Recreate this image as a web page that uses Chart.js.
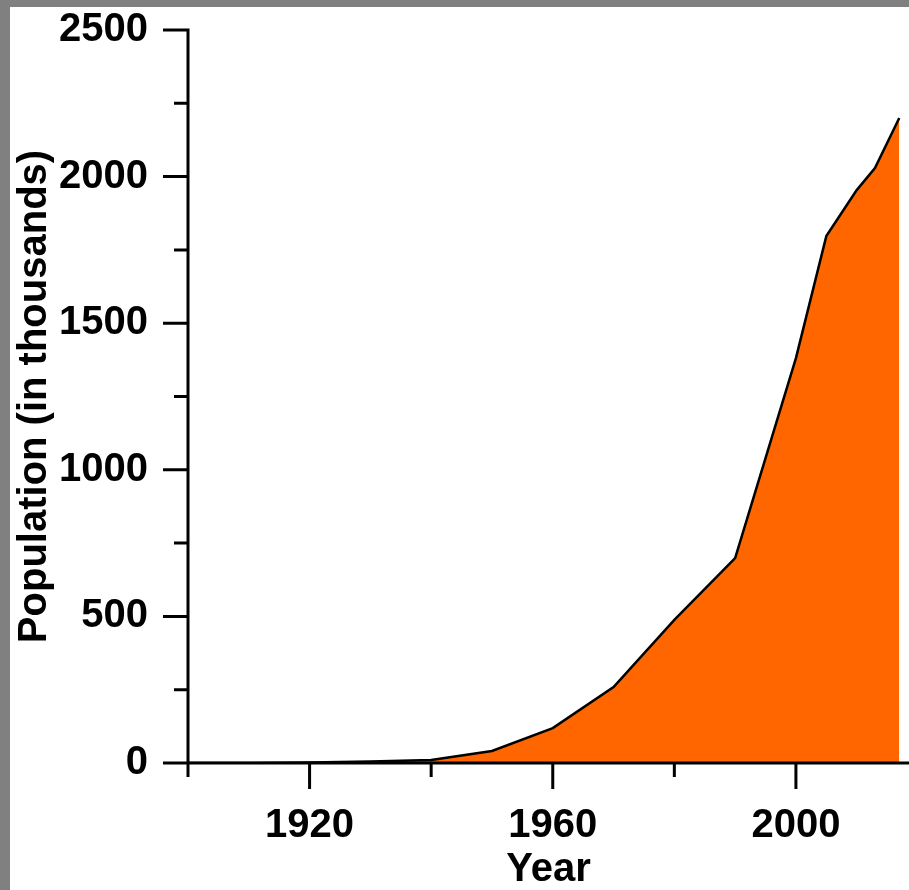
<!DOCTYPE html>
<html>
<head>
<meta charset="utf-8">
<script src="https://cdn.jsdelivr.net/npm/chart.js@4"></script>
<style>
  html, body { margin: 0; padding: 0; background: #808080; }
  #wrap { position: absolute; left: 10px; top: 7px; width: 899px; height: 883px; background: #fff; }
</style>
</head>
<body>
<div id="wrap"><canvas id="chart"></canvas></div>
<script>
// population values (thousands)
const years = [1900, 1910, 1920, 1930, 1940, 1950, 1960, 1970, 1980, 1990, 2000, 2005, 2010, 2013, 2017];
const population = [0, 0, 2, 5, 10, 41, 119, 259, 488, 699, 1381, 1797, 1954, 2029, 2200];
const xTicks = [1900, 1920, 1940, 1960, 1980, 2000];
const xLabels = [1920, 1960, 2000];
const yTicks = [0, 250, 500, 750, 1000, 1250, 1500, 1750, 2000, 2250, 2500];
const yLabels = [0, 500, 1000, 1500, 2000, 2500];

const font = { family: "'Liberation Sans', Arial, sans-serif", size: 40, weight: 'bold', lineHeight: 1 };

// axis lines + long/short tick marks
const axesPlugin = {
    id: 'axes',
    afterDatasetsDraw(chart) {
        const ctx = chart.ctx;
        const x = chart.scales.x;
        const y = chart.scales.y;
        const x0 = x.getPixelForValue(1900);
        const y0 = y.getPixelForValue(0);
        ctx.save();
        ctx.strokeStyle = '#000';
        ctx.lineWidth = 3;
        ctx.lineCap = 'butt';
        ctx.beginPath();
        ctx.moveTo(x0, y.getPixelForValue(2500) - 1.5);
        ctx.lineTo(x0, y0);
        ctx.moveTo(x0 - 25, y0);
        ctx.lineTo(chart.width, y0);
        yTicks.forEach(v => {
            const py = y.getPixelForValue(v);
            const len = yLabels.includes(v) ? 25 : 14;
            ctx.moveTo(x0 - len, py);
            ctx.lineTo(x0, py);
        });
        xTicks.forEach(v => {
            const px = x.getPixelForValue(v);
            const len = xLabels.includes(v) ? 26 : 14;
            ctx.moveTo(px, y0);
            ctx.lineTo(px, y0 + len);
        });
        ctx.stroke();
        ctx.restore();
    }
};

new Chart(document.getElementById('chart'), {
    type: 'line',
    data: {
        datasets: [{
            data: years.map((yr, i) => ({ x: yr, y: population[i] })),
            borderColor: '#000',
            borderWidth: 2.5,
            backgroundColor: '#ff6600',
            fill: 'origin',
            pointRadius: 0,
            tension: 0
        }]
    },
    options: {
        responsive: true,
        maintainAspectRatio: false,
        animation: false,
        events: [],
        layout: { padding: { top: 23, left: 0, right: 0, bottom: 0 } },
        plugins: { legend: { display: false }, tooltip: { enabled: false } },
        scales: {
            x: {
                type: 'linear',
                min: 1900,
                max: 2018.6,
                afterFit: s => { s.height = 127; },
                grid: { display: false, drawTicks: true, tickLength: 43 },
                border: { display: false },
                ticks: {
                    stepSize: 20,
                    includeBounds: false,
                    autoSkip: false,
                    maxRotation: 0,
                    padding: 0,
                    color: '#000',
                    font: font,
                    callback: v => xLabels.includes(v) ? String(v) : ''
                },
                title: { display: true, text: 'Year', color: '#000', font: font, padding: { top: 0, bottom: 0 } }
            },
            y: {
                min: 0,
                max: 2500,
                afterFit: s => { s.width = 178; },
                grid: { display: false, drawTicks: true, tickLength: 40 },
                border: { display: false },
                ticks: {
                    stepSize: 250,
                    autoSkip: false,
                    padding: 0,
                    color: '#000',
                    font: font,
                    callback: v => yLabels.includes(v) ? String(v) : ''
                },
                title: { display: true, text: 'Population (in thousands)', color: '#000', font: font, padding: { top: 5, bottom: 0 } }
            }
        }
    },
    plugins: [axesPlugin]
});
</script>
</body>
</html>
